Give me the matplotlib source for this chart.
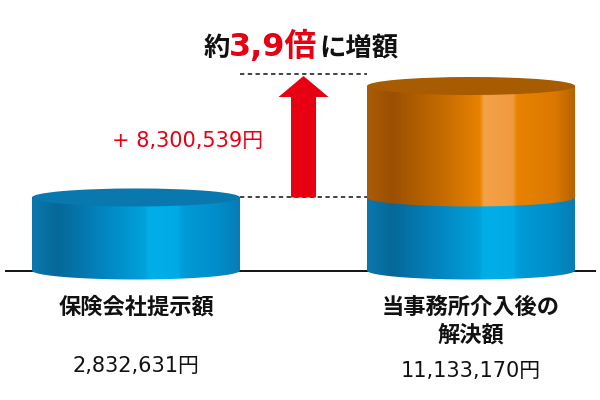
import numpy as np
import matplotlib
matplotlib.use("Agg")
import matplotlib.pyplot as plt
from matplotlib.patches import Ellipse, PathPatch, FancyArrow
from matplotlib.path import Path
from matplotlib.colors import LinearSegmentedColormap

# ---------------- data ----------------
categories = ["保険会社提示額", "当事務所介入後の\n解決額"]
offer_values = [2832631, 2832631]        # blue part (insurer offer)
increase_values = [0, 8300539]           # orange part (increase)
ratio_text = "3,9倍"
title_prefix = "約"
title_suffix = "に増額"

totals = [a + b for a, b in zip(offer_values, increase_values)]
value_labels = [f"{v:,}円" for v in totals]
increase_label = f"+ {increase_values[1]:,}円"

# ---------------- style ----------------
RED = "#e60012"
CJK = ["Noto Sans CJK JP", "DejaVu Sans"]
NUM = ["DejaVu Sans", "Noto Sans CJK JP"]
blue_stops = [(0, "#0b78ad"), (0.12, "#066898"), (0.35, "#0386c2"), (0.54, "#00a2dc"),
              (0.56, "#00afe8"), (0.70, "#00abe5"), (0.72, "#009cd9"), (0.9, "#008cc8"),
              (1, "#0a7bb2")]
orange_stops = [(0, "#aa5c06"), (0.12, "#9b5000"), (0.35, "#c26a00"), (0.54, "#e88200"),
                (0.56, "#f3a24a"), (0.70, "#f09a3c"), (0.72, "#e88300"), (0.9, "#dc7800"),
                (1, "#b46200")]
blue_cmap = LinearSegmentedColormap.from_list("b", blue_stops)
orange_cmap = LinearSegmentedColormap.from_list("o", orange_stops)
BLUE_TOP = "#0878ae"
ORANGE_TOP = "#a85c02"

P = 0.677  # power scale exponent


def fwd(v):
    v = np.asarray(v, float)
    return np.sign(v) * np.abs(v) ** P


def inv(u):
    u = np.asarray(u, float)
    return np.sign(u) * np.abs(u) ** (1.0 / P)


fig = plt.figure(figsize=(6, 4), dpi=100)
ax = fig.add_axes([0, 0, 1, 1], label="data")
ax.set_yscale("function", functions=(fwd, inv))
ax.set_xlim(-0.406, 1.385)
F = float(fwd(max(totals)))
frac0 = (400 - 270.5) / 400
frac1 = (400 - 86) / 400
span = F / (frac1 - frac0)
lo = -frac0 * span
ax.set_ylim(float(inv(lo)), float(inv(lo + span)))
ax.axis("off")

ov = fig.add_axes([0, 0, 1, 1], label="overlay")
ov.set_xlim(0, 600)
ov.set_ylim(400, 0)
ov.axis("off")


def to_px(x, v):
    d = ax.transData.transform((x, v))
    return ov.transData.inverted().transform(d)


# baseline
ax.axhline(0, xmin=6 / 600, xmax=595 / 600, color="#111111", lw=1.4, zorder=1)

BAR_W = 0.621
RY = 9.0


def body(xl, xr, ytop, ybot, cmap, z):
    cx = (xl + xr) / 2
    a = (xr - xl) / 2
    th = np.linspace(np.pi, 0, 80)
    verts = [(xl, ytop), (xl, ybot)] + [(cx + a * np.cos(t), ybot + RY * np.sin(t)) for t in th] + [(xr, ytop), (xl, ytop)]
    codes = [Path.MOVETO] + [Path.LINETO] * (len(verts) - 2) + [Path.CLOSEPOLY]
    patch = PathPatch(Path(verts, codes), fc="none", ec="none", transform=ov.transData)
    ov.add_patch(patch)
    grad = np.linspace(0, 1, 512)[None, :]
    im = ov.imshow(grad, cmap=cmap, extent=(xl, xr, ybot + RY + 1, ytop - 1), aspect="auto",
                   interpolation="bilinear", zorder=z)
    im.set_clip_path(patch)


def top(xl, xr, y, color, z):
    ov.add_patch(Ellipse(((xl + xr) / 2, y), xr - xl, 2 * RY, fc=color, ec="none", zorder=z))


for i in range(len(categories)):
    xl, yb = to_px(i - BAR_W / 2, 0)
    xr, _ = to_px(i + BAR_W / 2, 0)
    _, yo = to_px(i, offer_values[i])
    body(xl, xr, yo, yb, blue_cmap, 2)
    if increase_values[i] > 0:
        _, yt = to_px(i, totals[i])
        body(xl, xr, yt, yo, orange_cmap, 3)
        top(xl, xr, yt, ORANGE_TOP, 4)
    else:
        top(xl, xr, yo, BLUE_TOP, 4)
    cx = (xl + xr) / 2
    ov.text(cx, 296, categories[i], ha="center", va="top", ma="center", fontsize=16,
            fontweight="bold", family=CJK, color="#111111", linespacing=1.25)

# value labels
ov.text(to_px(0, 0)[0], 366, value_labels[0], ha="center", va="center", fontsize=15,
        family=NUM, color="#111111")
ov.text(to_px(1, 0)[0], 371, value_labels[1], ha="center", va="center", fontsize=15,
        family=NUM, color="#111111")

# dashed guides and arrow
x0r, _ = to_px(0 + BAR_W / 2, 0)
x1l, _ = to_px(1 - BAR_W / 2, 0)
_, y_low = to_px(0, offer_values[0])
_, y_high = to_px(1, totals[1])
y_up = y_high - RY - 3
ov.plot([x0r, x1l], [y_low, y_low], color="#333333", lw=1.3, ls=(0, (2.4, 1.9)), zorder=1)
ov.plot([x0r, x1l], [y_up, y_up], color="#333333", lw=1.3, ls=(0, (2.4, 1.9)), zorder=1)
xm, _ = to_px(0.5, 0)
ov.add_patch(FancyArrow(xm, y_low, 0, (y_up + 2) - y_low, width=25, head_width=50,
                        head_length=21, length_includes_head=True, fc=RED, ec="none", zorder=5))

ov.text(112, 141, increase_label, ha="left", va="center", fontsize=15, family=NUM, color=RED)

# title
ov.text(230, 56, title_prefix, ha="right", va="baseline", fontsize=19, fontweight="bold",
        family=CJK, color="#111111")
ov.text(273.5, 56, ratio_text, ha="center", va="baseline", fontsize=23, fontweight="bold",
        family=NUM, color=RED)
ov.text(319, 56, title_suffix, ha="left", va="baseline", fontsize=19, fontweight="bold",
        family=CJK, color="#111111")

fig.savefig("out.png", dpi=100)
